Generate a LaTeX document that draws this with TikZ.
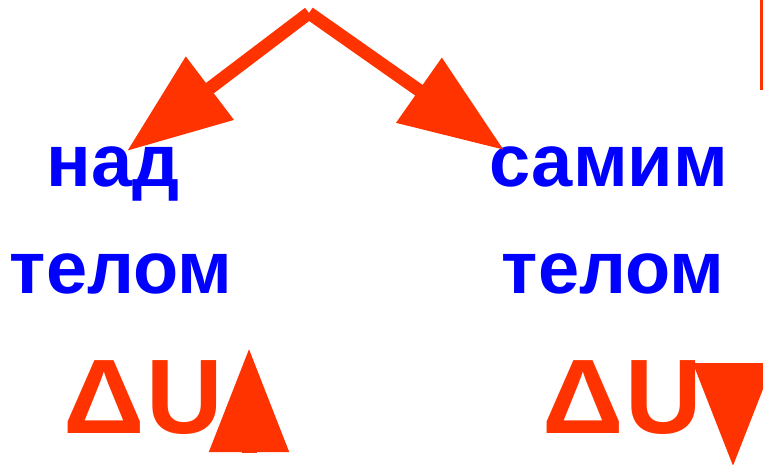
\documentclass[tikz,border=0pt]{standalone}
\usepackage{fontspec}
\usepackage{graphicx}
\setmainfont{Liberation Sans}
\usetikzlibrary{arrows.meta,positioning}
\definecolor{arrowred}{RGB}{255,51,0}
\definecolor{wordblue}{RGB}{0,0,255}
\newcommand{\dU}{\scalebox{1.07}[1]{Δ}\kern2pt U}
\begin{document}
\begin{tikzpicture}[x=1pt,y=-1pt,every node/.style={inner sep=0pt}]
\tikzstyle{word}=[wordblue,font=\fontsize{74}{80}\selectfont\bfseries,anchor=base]
\tikzstyle{energy}=[arrowred,font=\fontsize{106}{110}\selectfont\bfseries,anchor=base west]
\tikzstyle{fat}=[draw=arrowred,line width=13pt,-{Triangle[length=104pt,width=76pt]}]
\useasboundingbox (0,0) rectangle (763,465);

\node[word](n00) at (113,187){над};
\node[word](n10) at (121,293){телом};
\node[word](n01) at (609,187){самим};
\node[word](n11) at (613,293){телом};

\node[energy](d0) at (63,433){\dU};
\node[energy](d1) at (542,433){\dU};

\coordinate (top) at (309,13);
\coordinate (tip0) at (127,151);
\coordinate (tip1) at (504,150);
\draw[fat] (top) -- (tip0);
\draw[fat] (top) -- (tip1);

\coordinate (up0) at (249,453);
\coordinate (up1) at (249,348);
\draw[fat,line width=15pt] (up0) -- (up1);
\coordinate (down0) at (733,363);
\coordinate (down1) at (733,467);
\draw[fat,line width=15pt] (down0) -- (down1);

\draw[arrowred,line width=3pt] (761.5,0) -- (761.5,90);
\end{tikzpicture}
\end{document}
